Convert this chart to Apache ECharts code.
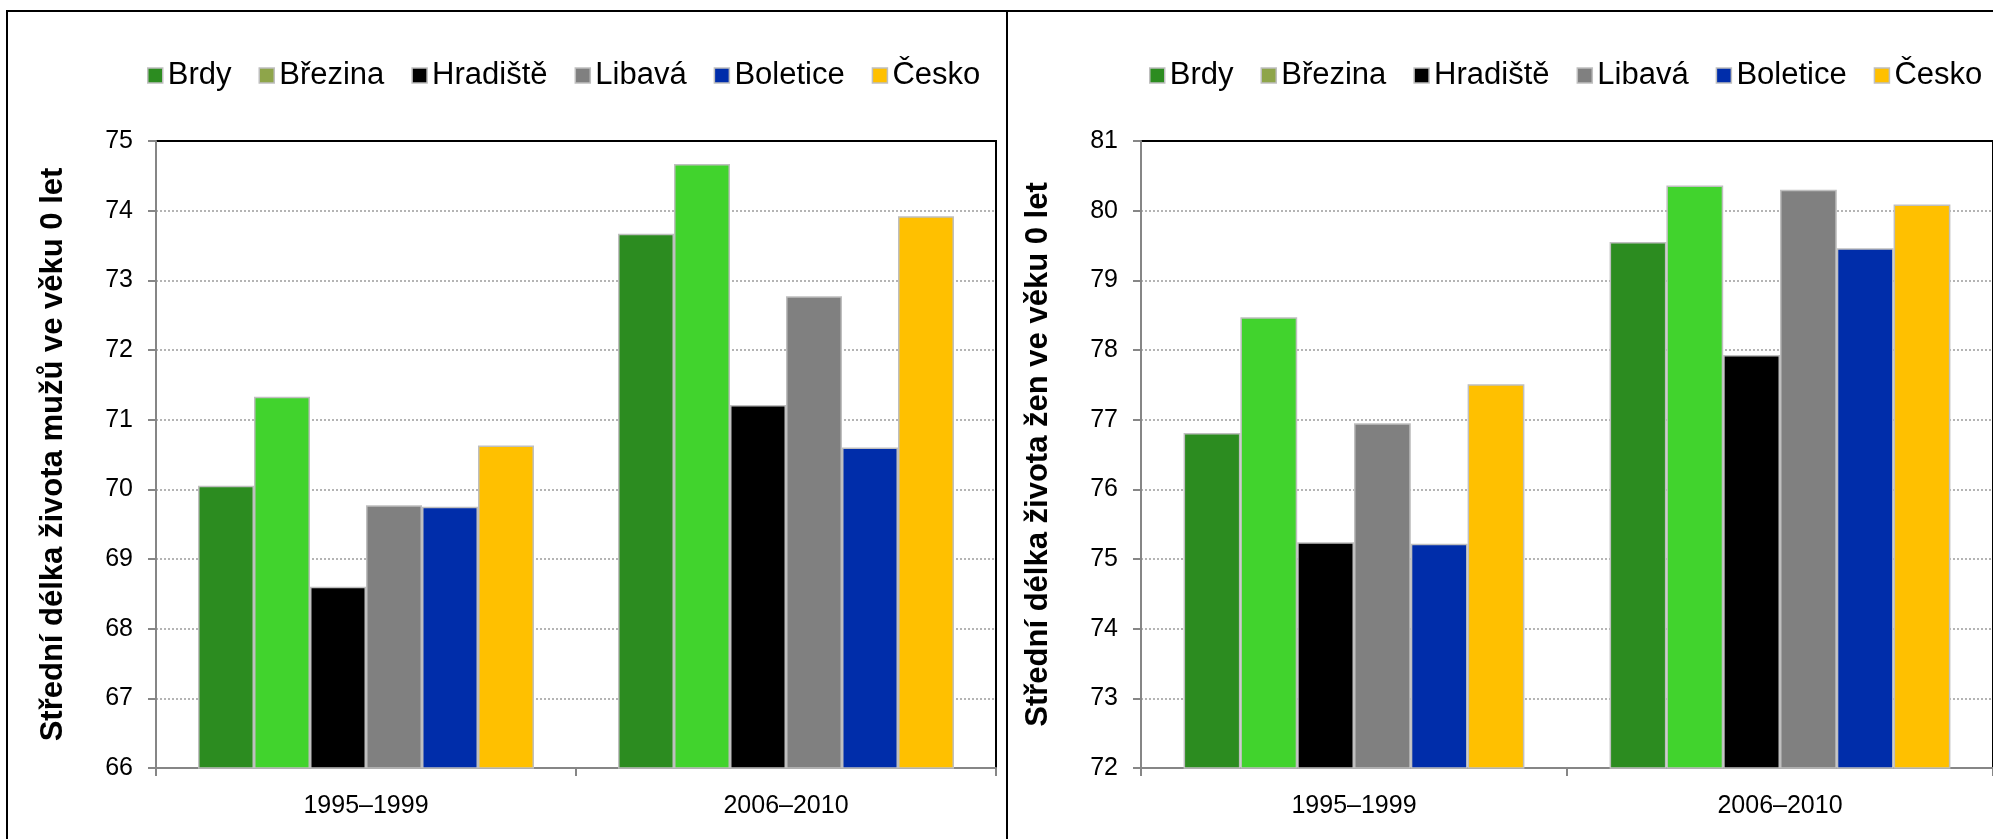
<!DOCTYPE html>
<html>
<head>
<meta charset="utf-8">
<script src="https://cdn.jsdelivr.net/npm/echarts@6/dist/echarts.min.js"></script>
<style>
  html, body { margin: 0; padding: 0; background: #fff; }
  #chart { width: 1993px; height: 839px; }
</style>
</head>
<body>
<div id="chart"></div>
<script>
// kategorie a názvy řad
var categories = ["1995–1999", "2006–2010"];
var seriesNames = ["Brdy", "Březina", "Hradiště", "Libavá", "Boletice", "Česko"];

// muži (levý graf)
var menBrdy = [70.05, 73.67];
var menBrezina = [71.33, 74.67];
var menHradiste = [68.60, 71.21];
var menLibava = [69.77, 72.77];
var menBoletice = [69.75, 70.60];
var menCesko = [70.63, 73.92];

// ženy (pravý graf)
var womenBrdy = [76.81, 79.55];
var womenBrezina = [78.47, 80.36];
var womenHradiste = [75.24, 77.93];
var womenLibava = [76.95, 80.30];
var womenBoletice = [75.22, 79.46];
var womenCesko = [77.51, 80.09];

var menTicks = [66, 75];
var womenTicks = [72, 81];

var colors = ["#2C8C20", "#41D32D", "#000000", "#808080", "#002DAA", "#FFC000"];
var legendColors = ["#2C8C20", "#8EA54A", "#000000", "#808080", "#002DAA", "#FFC000"];

var font = 'Arial, "Liberation Sans", sans-serif';

var menData = [menBrdy, menBrezina, menHradiste, menLibava, menBoletice, menCesko];
var womenData = [womenBrdy, womenBrezina, womenHradiste, womenLibava, womenBoletice, womenCesko];

function makeLegend(left) {
    return {
        left: left,
        top: 55,
        width: 1000,
        icon: "rect",
        itemWidth: 15,
        itemHeight: 15,
        itemGap: 27,
        textStyle: { fontFamily: font, fontSize: 31, color: "#000" },
        data: seriesNames.map(function (n, i) {
            return { name: n, itemStyle: { color: legendColors[i], borderColor: "#BFBFBF", borderWidth: 1.5 } };
        })
    };
}

function makeXAxis(gridIndex) {
    return {
        type: "category",
        gridIndex: gridIndex,
        data: categories,
        axisLine: { lineStyle: { color: "#868686", width: 2 } },
        axisTick: { show: true, length: 8, lineStyle: { color: "#868686", width: 2 } },
        axisLabel: { color: "#000", fontFamily: font, fontSize: 25, margin: 26 }
    };
}

function makeYAxis(gridIndex, ticks, name) {
    return {
        type: "value",
        gridIndex: gridIndex,
        min: ticks[0],
        max: ticks[1],
        interval: 1,
        name: name,
        nameLocation: "middle",
        nameGap: 87,
        nameTextStyle: { fontFamily: font, fontSize: 31, fontWeight: "bold", color: "#000" },
        axisLine: { show: true, lineStyle: { color: "#868686", width: 2 } },
        axisTick: { show: true, length: 8, lineStyle: { color: "#868686", width: 2 } },
        axisLabel: { color: "#000", fontFamily: font, fontSize: 25, margin: 23 },
        splitLine: {
            show: true, showMinLine: false, showMaxLine: false,
            lineStyle: { color: "#B4B4B4", width: 2, type: [2, 2] }
        }
    };
}

var series = [];
seriesNames.forEach(function (n, i) {
    series.push({
        name: n, type: "bar", xAxisIndex: 0, yAxisIndex: 0,
        data: menData[i],
        barGap: "0%", barCategoryGap: "20%",
        itemStyle: { color: colors[i], borderColor: "#BFBFBF", borderWidth: 1.5 }
    });
});
seriesNames.forEach(function (n, i) {
    series.push({
        name: n, type: "bar", xAxisIndex: 1, yAxisIndex: 1,
        data: womenData[i],
        barGap: "0%", barCategoryGap: "20%",
        itemStyle: { color: colors[i], borderColor: "#BFBFBF", borderWidth: 1.5 }
    });
});

var option = {
    animation: false,
    backgroundColor: "#fff",
    graphic: [
        { type: "rect", shape: { x: 7, y: 11, width: 1000, height: 840 }, style: { fill: null, stroke: "#000", lineWidth: 2 }, z: 100 },
        { type: "rect", shape: { x: 1007, y: 11, width: 1000, height: 840 }, style: { fill: null, stroke: "#000", lineWidth: 2 }, z: 100 }
    ],
    legend: [makeLegend(142), makeLegend(1144)],
    grid: [
        { left: 156, top: 141, width: 840, height: 627, show: true, borderColor: "#000", borderWidth: 2 },
        { left: 1141, top: 141, width: 854, height: 627, show: true, borderColor: "#000", borderWidth: 2 }
    ],
    xAxis: [makeXAxis(0), makeXAxis(1)],
    yAxis: [
        makeYAxis(0, menTicks, "Střední délka života mužů ve věku 0 let"),
        makeYAxis(1, womenTicks, "Střední délka života žen ve věku 0 let")
    ],
    series: series
};

var myChart = echarts.init(document.getElementById("chart"));
myChart.setOption(option);
</script>
</body>
</html>
